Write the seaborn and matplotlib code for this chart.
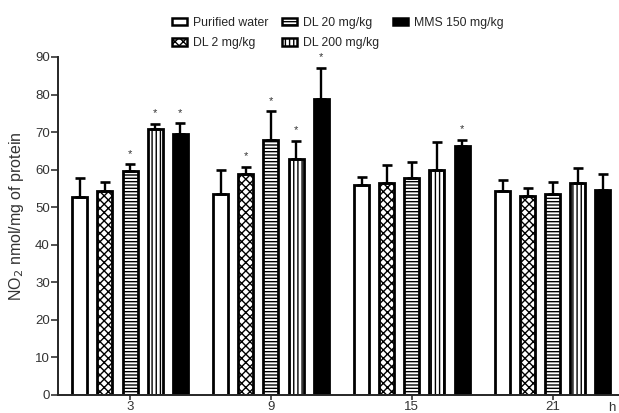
from matplotlib import pyplot as plt
from matplotlib.patches import Patch
import pandas as pd
import seaborn as sns


hours = ['3', '9', '15', '21']
groups = ['Purified water', 'DL 2 mg/kg', 'DL 20 mg/kg', 'DL 200 mg/kg', 'MMS 150 mg/kg']

# mean NO2 per group, one value per time point
water = [52.7, 53.6, 55.9, 54.3]
dl2 = [54.3, 58.8, 56.5, 53.0]
dl20 = [59.6, 67.8, 57.8, 53.6]
dl200 = [70.7, 62.9, 59.8, 56.3]
mms = [69.4, 78.7, 66.3, 54.7]

# upper error (SD)
water_err = [5.1, 6.3, 2.1, 3.0]
dl2_err = [2.3, 2.0, 4.8, 2.0]
dl20_err = [1.8, 7.7, 4.2, 3.0]
dl200_err = [1.4, 4.7, 7.6, 4.0]
mms_err = [2.9, 8.5, 1.7, 4.1]

# significance marks
water_sig = [0, 0, 0, 0]
dl2_sig = [0, 1, 0, 0]
dl20_sig = [1, 1, 0, 0]
dl200_sig = [1, 1, 0, 0]
mms_sig = [1, 1, 1, 0]

means = [water, dl2, dl20, dl200, mms]
errs = [water_err, dl2_err, dl20_err, dl200_err, mms_err]
sigs = [water_sig, dl2_sig, dl20_sig, dl200_sig, mms_sig]

fills = ['white', 'white', 'white', 'white', 'black']
hatches = ['', 'xxxx', '-----', '||||', '']

rows = []
for g, vals in zip(groups, means):
	for h, v in zip(hours, vals):
		rows.append({'hour': h, 'group': g, 'no2': v})
df = pd.DataFrame(rows)

sns.set_style('ticks')
plt.rcParams['font.family'] = ['Liberation Sans', 'DejaVu Sans']
plt.rcParams['hatch.linewidth'] = 1.0
plt.rcParams['axes.linewidth'] = 1.4

fig = plt.figure(figsize=(6.19, 4.13), dpi=100)
ax = fig.add_axes([0.094, 0.044, 0.906, 0.818])

sns.barplot(data=df, x='hour', y='no2', hue='group', hue_order=groups,
	order=hours, palette=dict(zip(groups, fills)), width=0.89, gap=0.4,
	edgecolor='black', linewidth=2.0, legend=False, ax=ax)

for cont, hat, e, s in zip(ax.containers, hatches, errs, sigs):
	xs = []
	ys = []
	for bar in cont:
		bar.set_hatch(hat)
		xs.append(bar.get_x() + bar.get_width() / 2)
		ys.append(bar.get_height())
	ax.errorbar(xs, ys, yerr=[[0] * len(e), e], fmt='none', ecolor='black',
		elinewidth=1.7, capsize=3.5, capthick=1.9, zorder=1)
	for x, y, err, star in zip(xs, ys, e, s):
		if star:
			ax.text(x, y + err + 1.5, '*', ha='center', va='bottom', fontsize=8, color='#333333')

ax.set_ylim(0, 90)
ax.set_yticks(range(0, 91, 10))
ax.set_xlim(-0.51, 3.47)
ax.set_xlabel('')
ax.set_ylabel('NO$_2$ nmol/mg of protein', fontsize=11.5, color='#333333')
ax.yaxis.set_label_coords(-0.058, 0.53)
ax.tick_params(axis='both', labelsize=9.5, width=1.2, colors='#333333')
ax.tick_params(axis='y', length=5, pad=1)
ax.tick_params(axis='x', length=3.5, pad=1)
ax.text(3.42, -0.022, 'h', transform=ax.get_xaxis_transform(), ha='center', va='top',
	fontsize=9.5, color='#333333')
sns.despine(ax=ax)

handles = [Patch(facecolor=c, edgecolor='black', hatch=h, linewidth=1.8)
	for c, h in zip(fills, hatches)]
fig.legend(handles, groups, ncol=3, loc='upper left', bbox_to_anchor=(0.26, 0.986),
	frameon=False, fontsize=8.8, handlelength=1.2, handleheight=0.6,
	handletextpad=0.5, columnspacing=1.15, labelspacing=0.7)

plt.savefig('out.png', dpi=100)
